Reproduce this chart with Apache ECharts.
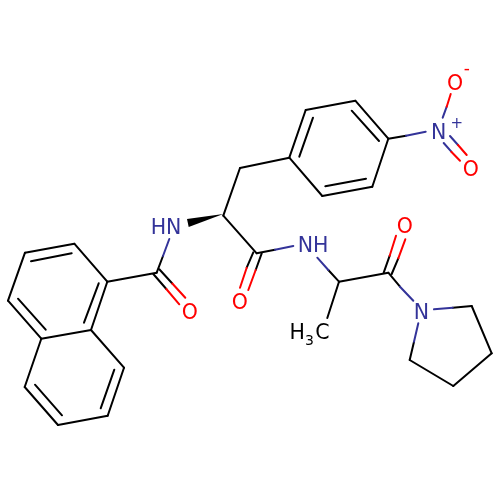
<!DOCTYPE html>
<html><head><meta charset="utf-8">
<style>html,body{margin:0;padding:0;background:#fff}#c{width:500px;height:500px}</style>
<script src="https://cdn.jsdelivr.net/npm/echarts@6/dist/echarts.min.js"></script>
</head><body><div id="c"></div>
<script>
const blackBonds = [
 [74.3,243.7,25,252.7],[25,252.7,8,300.7],[8,300.7,41.3,338.7],[41.3,338.7,91,330],[91,330,107.3,281.7],[107.3,281.7,74.3,243.7],
 [91,330,124,367.7],[124,367.7,107.7,415.7],[107.7,415.7,58,425],[58,425,24.7,387],[24.7,387,41.3,338.7],
 [31,261.3,71.7,253.3],[18,298.7,45.7,329.7],[84,322.7,98.7,283.3],[114.3,369.7,100.7,408.3],[62,415.3,35,384.7],
 [107.3,281.7,156.7,272.7],[156.7,272.7,163,256],[159.3,269.3,172.3,283.5],[153.3,274,166.3,289],
 [223.3,215.7,240,168],[240,168,289.3,157.7],[223.3,215.7,256.7,253.3],
 [289.3,157.7,305.7,110],[305.7,110,355.3,100.7],[355.3,100.7,388.3,138.7],[388.3,138.7,372.3,186.7],[372.3,186.7,322.3,196],[322.3,196,289.3,157.7],
 [299.3,156.7,313,117.7],[351.7,110.7,379,141],[366,178.7,325.3,186.3],[388.3,138.7,406,135.7],
 [261.7,253.3,255.7,270],[253.3,252.3,246.7,267.7],[256.7,253.3,275,249.7],
 [328.3,270,339,281.7],[339,281.7,388.3,272.7],[339,281.7,327.3,318],
 [391.7,274,398.3,258.3],[383.7,272.7,389.7,255.7],[388.3,272.7,400,286.7],
 [452.7,307.7,471.7,306],[471.7,306,491.7,353.3],[491.7,353.3,453.3,386],[453.3,386,409.7,360],[409.7,360,414,341.7]
];
const blueBonds = [
 [163,256,169.3,239],[275,249.7,293.3,246],[317.3,257.7,328.3,270],[400,286.7,413.3,300.7],
 [434,309.3,452.7,307.7],[414,341.7,418.3,323.3],[406,135.7,425.7,131.7],[442.7,117.7,446.7,106.7],[450,136,458,145],[443.7,143,451.3,151.7]
];
const redBonds = [
 [172.3,283.5,185.3,297.7],[166.3,289,179.3,304.3],[255.7,270,248.3,290],[246.7,267.7,240,287.7],
 [398.3,258.3,405.3,239.3],[389.7,255.7,396,235.7],[446.7,106.7,450.7,94],[458,145,466.7,155],[451.3,151.7,460,160.7]
];
const wedge = [[223.3,214],[187,219],[188.7,227]];
const blueLabels = [['HN',166,226,20.5],['NH',313,244.3,20.5],['N',421.3,311.7,20.5],['N',438.7,131,20.5],['+',456.7,122,15]];
const redLabels = [['O',189.7,311.7,20.5],['O',239.7,301.7,20.5],['O',404.7,225.7,20.5],['O',455,82.7,20.5],['O',470.7,168.7,20.5],['-',466.7,67,17]];
const blackLabels = [['H',297.3,331,20.5],['3',309.5,339,14],['C',322.3,331,20.5]];
const BLUE='#333399', RED='#ff0000', BLACK='#000000';
const bondSeries=(arr,color)=>({type:'lines',coordinateSystem:'cartesian2d',polyline:false,silent:true,animation:false,
 lineStyle:{color,width:2,opacity:1,cap:'round'},
 data:arr.map(b=>({coords:[[b[0],b[1]],[b[2],b[3]]]}))});
const labelSeries=(arr,color)=>({type:'scatter',symbolSize:0,silent:true,animation:false,itemStyle:{opacity:1},
 data:arr.map(l=>({value:[l[1],l[2]],label:{show:true,position:'inside',offset:[0,2.2],formatter:l[0],color,opacity:1,fontSize:l[3],fontFamily:'DejaVu Sans',align:'center',verticalAlign:'middle'}}))});
const chart=echarts.init(document.getElementById('c'),null,{renderer:'canvas'});
chart.setOption({animation:false,backgroundColor:'#fff',
 grid:{left:0,right:0,top:0,bottom:0},
 xAxis:{type:'value',min:0,max:500,show:false},
 yAxis:{type:'value',min:0,max:500,inverse:true,show:false},
 series:[bondSeries(blackBonds,BLACK),bondSeries(blueBonds,BLUE),bondSeries(redBonds,RED),
  {type:'custom',silent:true,animation:false,data:[0],renderItem:(p,api)=>({type:'polygon',shape:{points:wedge.map(w=>api.coord(w))},style:{fill:BLACK}})},
  labelSeries(blueLabels,BLUE),labelSeries(redLabels,RED),labelSeries(blackLabels,BLACK)]
});
</script></body></html>
